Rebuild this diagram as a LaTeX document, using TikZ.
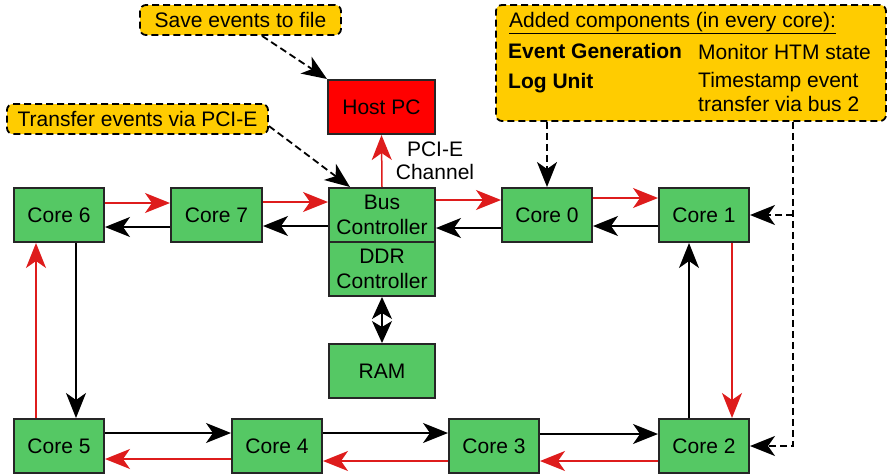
\documentclass[tikz,border=0pt]{standalone}
\usepackage{fontspec}
\setmainfont{Liberation Sans}
\usetikzlibrary{arrows.meta}

\definecolor{coregreen}{RGB}{85,200,100}
\definecolor{hostred}{RGB}{255,0,0}
\definecolor{noteyellow}{RGB}{255,204,0}
\definecolor{linkred}{RGB}{222,28,28}

\begin{document}
\begin{tikzpicture}[x=1pt,y=-1pt,
  font=\fontsize{21}{25}\selectfont,
  block/.style={draw=black!85, line width=2pt, fill=coregreen,
    minimum width=90pt, minimum height=54pt, inner sep=0pt, align=center},
  wideblock/.style={block, minimum width=106pt},
  note/.style={draw, dash pattern=on 7pt off 4pt, line width=1.8pt,
    fill=noteyellow, rounded corners=6pt, inner sep=0pt},
  tipped/.style={arrows={-Stealth[length=25pt,width=20pt,inset=7pt]}},
  bothtipped/.style={arrows={Stealth[length=22pt,width=20pt,inset=6pt]-Stealth[length=22pt,width=20pt,inset=6pt]}},
  blacklink/.style={tipped, draw=black, line width=1.5pt},
  redlink/.style={tipped, draw=linkred, line width=1.5pt},
  notelink/.style={tipped, draw=black, line width=1.8pt, dash pattern=on 7pt off 4pt},
  label/.style={inner sep=0pt, anchor=base west}]

\useasboundingbox (0,0) rectangle (889,474);

% ring of cores and the shared controllers
\node[block] (core6) at (59,215) {Core 6};
\node[block, minimum width=91pt] (core7) at (216.5,215) {Core 7};
\node[wideblock] (bus) at (382,215) {Bus\\Controller};
\node[wideblock] (ddr) at (382,269) {DDR\\Controller};
\node[wideblock] (ram) at (382,371) {RAM};
\node[wideblock, fill=hostred, minimum width=107pt] (host) at (381.5,107) {Host PC};
\node[block] (core0) at (547,215) {Core 0};
\node[block] (core1) at (704,215) {Core 1};
\node[block] (core2) at (704,446) {Core 2};
\node[block] (core3) at (494,446) {Core 3};
\node[block] (core4) at (277,446) {Core 4};
\node[block] (core5) at (59,446) {Core 5};

% PCI-E channel label
\node[align=center, inner sep=0pt, font=\fontsize{21}{23}\selectfont] (pcie) at (435,161) {PCI-E\\Channel};

% top row: red forward path, black return path
\draw[redlink] ([yshift=12pt]core6.east) -- ([yshift=12pt]core7.west);
\draw[redlink] ([yshift=13pt]core7.east) -- ([yshift=13pt]bus.west);
\draw[redlink] ([yshift=15pt]bus.east) -- ([yshift=15pt]core0.west);
\draw[redlink] ([yshift=17pt]core0.east) -- ([yshift=17pt]core1.west);
\draw[blacklink] ([yshift=-12pt]core7.west) -- ([yshift=-12pt]core6.east);
\draw[blacklink] ([yshift=-11pt]bus.west) -- ([yshift=-11pt]core7.east);
\draw[blacklink] ([yshift=-13pt]core0.west) -- ([yshift=-13pt]bus.east);
\draw[blacklink] ([yshift=-11pt]core1.west) -- ([yshift=-11pt]core0.east);

% right column
\draw[redlink] ([xshift=28pt]core1.south) -- ([xshift=28pt]core2.north);
\draw[blacklink] ([xshift=-15pt]core2.north) -- ([xshift=-15pt]core1.south);

% bottom row
\draw[blacklink] ([yshift=13pt]core5.east) -- ([yshift=13pt]core4.west);
\draw[blacklink] ([yshift=13pt]core4.east) -- ([yshift=13pt]core3.west);
\draw[blacklink] ([yshift=12pt]core3.east) -- ([yshift=12pt]core2.west);
\draw[redlink] ([yshift=-15pt]core2.west) -- ([yshift=-15pt]core3.east);
\draw[redlink] ([yshift=-15pt]core3.west) -- ([yshift=-15pt]core4.east);
\draw[redlink] ([yshift=-13pt]core4.west) -- ([yshift=-13pt]core5.east);

% left column
\draw[blacklink] ([xshift=17pt]core6.south) -- ([xshift=17pt]core5.north);
\draw[redlink] ([xshift=-23pt]core5.north) -- ([xshift=-23pt]core6.south);

% host link and memory link
\draw[redlink] (bus.north) -- (host.south);
\draw[draw=black, line width=1.5pt, bothtipped] (ddr.south) -- (ram.north);

% annotations
\node[note, minimum width=201pt, minimum height=30pt] (save) at (240.5,20) {Save events to file};
\node[note, minimum width=261pt, minimum height=30pt] (transfer) at (137.5,119) {Transfer events via PCI-E};
\node[note, minimum width=390pt, minimum height=116pt] (added) at (691,63) {};

\node[label] (title) at (509,27) {\underline{Added components (in every core):}};
\node[label, font=\fontsize{21}{25}\selectfont\bfseries] (evgen) at (508,58) {Event Generation};
\node[label] (evdesc) at (698,59) {Monitor HTM state};
\node[label, font=\fontsize{21}{25}\selectfont\bfseries] (logunit) at (508,88) {Log Unit};
\node[label] (logdesc) at (698,87) {Timestamp event};
\node[label] (logdesc2) at (698,111) {transfer via bus 2};

\draw[notelink] ([xshift=21.5pt]save.south) -- (host.north west);
\draw[notelink] ([yshift=-7pt]transfer.east) -- ([xshift=-32pt]bus.north);
\draw[notelink] ([xshift=-144pt]added.south) -- (core0.north);
\coordinate (drop) at ([xshift=102pt]added.south);
\draw[notelink] (drop) |- (core2.east);
\draw[notelink] (drop |- core1.east) -- (core1.east);

\end{tikzpicture}
\end{document}
